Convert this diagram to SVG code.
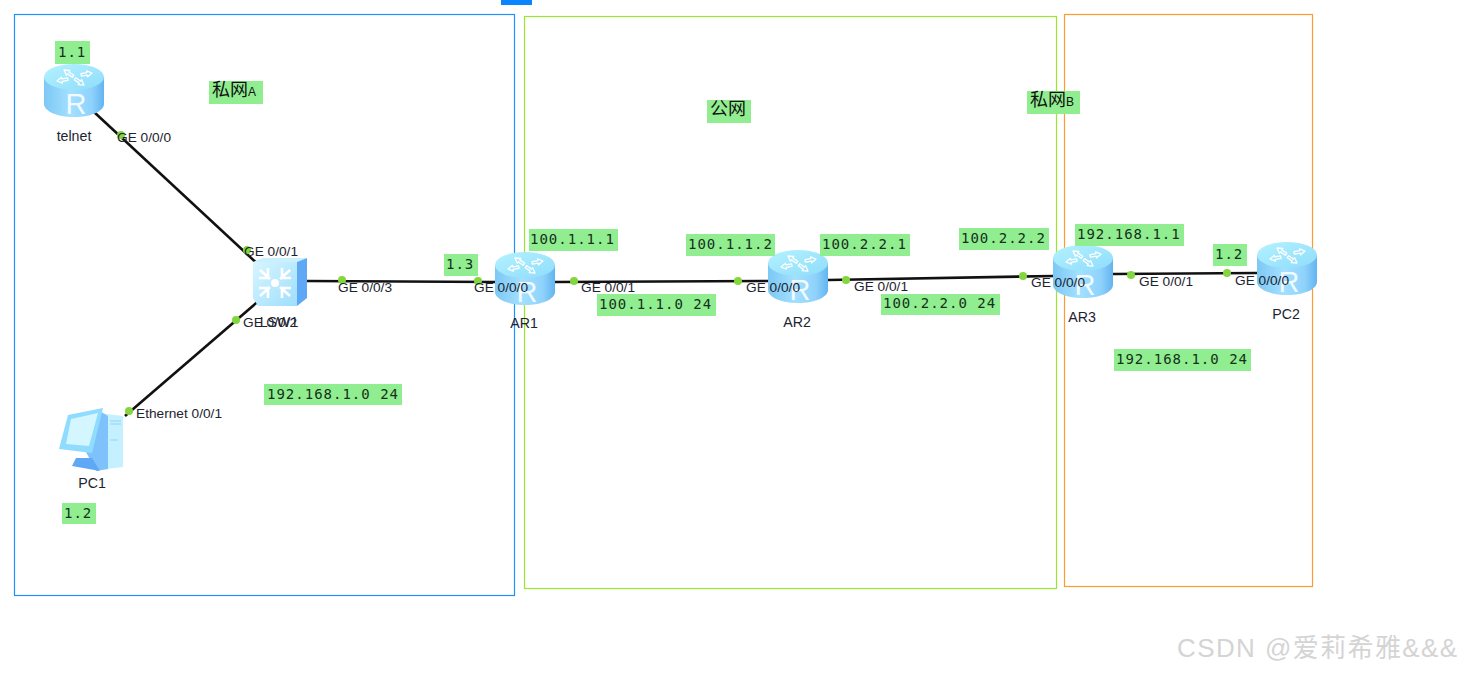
<svg xmlns="http://www.w3.org/2000/svg" xmlns:xlink="http://www.w3.org/1999/xlink" width="1462" height="673" viewBox="0 0 1462 673">
<style>
.lab{font-family:"Liberation Sans",Arial,sans-serif;font-size:14.2px;fill:#1c2430}
.port{font-family:"Liberation Sans",Arial,sans-serif;font-size:13.7px;fill:#1c2430}
.mono{font-family:"DejaVu Sans Mono","Liberation Mono",monospace;font-size:14px;letter-spacing:1px;fill:#15301c}
.cjk{font-family:"Liberation Sans","Noto Sans CJK SC",sans-serif;font-size:18px;fill:#111}
.bg{fill:#90ee90}
.link{stroke:#111;stroke-width:2.6;fill:none}
.dot{fill:#84d63e}
.ico{fill:none;stroke:#fff;stroke-width:1.3;stroke-linejoin:round}
</style>
<defs>
<linearGradient id="cyl" x1="0" x2="1" y1="0" y2="0">
<stop offset="0" stop-color="#7cc8f5"/><stop offset=".45" stop-color="#a4e0ff"/><stop offset=".8" stop-color="#8ed2fb"/><stop offset="1" stop-color="#62b4f0"/>
</linearGradient>
<linearGradient id="top" x1="0" x2="1" y1="0" y2="1">
<stop offset="0" stop-color="#b4f2ff"/><stop offset="1" stop-color="#8edcfb"/>
</linearGradient>
<linearGradient id="sw" x1="0" x2="1" y1="0" y2="1">
<stop offset="0" stop-color="#d8f6ff"/><stop offset="1" stop-color="#9edefc"/>
</linearGradient>
<g id="arrow"><path d="M0 0L5 -3V-1.200H11V1.200H5V3Z"/></g>
<g id="router">
<path d="M0 13V40C0 47 13 53 30 53S60 47 60 40V13Z" fill="url(#cyl)"/>
<ellipse cx="30" cy="13" rx="30" ry="13" fill="url(#top)"/>
<g class="ico">
<use xlink:href="#arrow" href="#arrow" transform="translate(20 6) rotate(35)"/>
<use xlink:href="#arrow" href="#arrow" transform="translate(48 9) rotate(170)"/>
<use xlink:href="#arrow" href="#arrow" transform="translate(13 17) rotate(-10)"/>
<use xlink:href="#arrow" href="#arrow" transform="translate(40 21) rotate(215)"/>
</g>
<text x="32" y="50" text-anchor="middle" font-family="Liberation Sans,sans-serif" font-size="29" fill="#f0fbff">R</text>
</g>
</defs>
<rect width="1462" height="673" fill="#fff"/>
<rect x="501" y="0" width="31" height="5" fill="#0a84ff"/>
<g id="regions" fill="none" stroke-width="1.2">
<rect x="14.500" y="14.500" width="500" height="581" stroke="#1e90ff"/>
<rect x="524.500" y="16.500" width="532" height="572" stroke="#9ae82e"/>
<rect x="1064.500" y="14.500" width="248" height="572" stroke="#ff9a2e"/>
</g>
<g id="connectors">
<path class="link" d="M94 112L262 268"/>
<path class="link" d="M262 298L125 416"/>
<path class="link" d="M306 281L496 282"/>
<path class="link" d="M555 282L769 281"/>
<path class="link" d="M828 280L1054 276"/>
<path class="link" d="M1113 274L1257 273"/>
<circle class="dot" cx="121" cy="135" r="4"/><circle class="dot" cx="247" cy="250" r="4"/>
<circle class="dot" cx="236" cy="320" r="4"/><circle class="dot" cx="129" cy="411" r="4"/>
<circle class="dot" cx="342" cy="280" r="4"/><circle class="dot" cx="478" cy="281" r="4"/>
<circle class="dot" cx="574" cy="281" r="4"/><circle class="dot" cx="738" cy="281" r="4"/>
<circle class="dot" cx="846" cy="280" r="4"/><circle class="dot" cx="1023" cy="276" r="4"/>
<circle class="dot" cx="1131" cy="275" r="4"/><circle class="dot" cx="1227" cy="273" r="4"/>
</g>
<g id="telnet"><use xlink:href="#router" href="#router" x="44" y="64"/><text class="lab" x="74" y="141" text-anchor="middle">telnet</text></g>
<g id="lsw1">
<path d="M253 262L263 258H307L297 262Z" fill="#c8f0ff"/>
<path d="M253 262H297V306H258L253 298Z" fill="url(#sw)"/>
<path d="M297 262L307 258V298L297 306Z" fill="#5fa8f5"/>
<g stroke="#fff" stroke-width="2.6" fill="none">
<path d="M260 270l10 9M268 268v10h-9M290 270l-10 9M282 268v10h9M260 296l10-9M268 298v-10h-9M290 296l-10-9M282 298v-10h9"/>
</g>
<circle cx="275" cy="283" r="4" fill="#fff"/>
<text class="lab" x="279" y="327" text-anchor="middle">LSW1</text>
</g>
<g id="pc1">
<path d="M98 413L123 416V467L98 470Z" fill="#c4f0ff"/>
<path d="M98 410L108 416V469L96 471L86 452Z" fill="#7fc2fb"/>
<path d="M110 421H121M110 424H121M110 440H118" stroke="#8ed4f6" stroke-width="1.200" fill="none"/>
<path d="M68 415L103 408L92 453L59 449Z" fill="#8fdcff"/>
<path d="M71 419L98 413L89 446L66 444Z" fill="#d4f6ff"/>
<path d="M76 458H92L100 471L72 466Z" fill="#5ea8f5"/>
<text class="lab" x="92" y="488" text-anchor="middle">PC1</text>
</g>
<g id="ar1"><use xlink:href="#router" href="#router" x="495" y="252"/><text class="lab" x="524" y="328" text-anchor="middle">AR1</text></g>
<g id="ar2"><use xlink:href="#router" href="#router" x="768" y="250"/><text class="lab" x="797" y="327" text-anchor="middle">AR2</text></g>
<g id="ar3"><use xlink:href="#router" href="#router" x="1053" y="245"/><text class="lab" x="1082" y="322" text-anchor="middle">AR3</text></g>
<g id="pc2"><use xlink:href="#router" href="#router" x="1257" y="242"/><text class="lab" x="1286" y="319" text-anchor="middle">PC2</text></g>
<g id="port-labels">
<text class="port" x="117" y="142">GE 0/0/0</text>
<text class="port" x="244" y="256">GE 0/0/1</text>
<text class="port" x="243" y="327">GE 0/0/2</text>
<text class="port" x="338" y="292">GE 0/0/3</text>
<text class="port" x="136" y="418">Ethernet 0/0/1</text>
<text class="port" x="474" y="292">GE 0/0/0</text>
<text class="port" x="581" y="292">GE 0/0/1</text>
<text class="port" x="746" y="292">GE 0/0/0</text>
<text class="port" x="854" y="291">GE 0/0/1</text>
<text class="port" x="1031" y="287">GE 0/0/0</text>
<text class="port" x="1139" y="286">GE 0/0/1</text>
<text class="port" x="1235" y="285">GE 0/0/0</text>
</g>
<g id="notes">
<rect class="bg" x="55" y="41" width="35" height="23"/><text class="mono" x="58" y="57">1.1</text>
<rect class="bg" x="209" y="81" width="54" height="23"/><text class="cjk" x="212" y="96">私网<tspan font-size="12">A</tspan></text>
<rect class="bg" x="707" y="100" width="44" height="23"/><text class="cjk" x="710" y="115">公网</text>
<rect class="bg" x="1027" y="91" width="53" height="23"/><text class="cjk" x="1030" y="106">私网<tspan font-size="12">B</tspan></text>
<rect class="bg" x="444" y="254" width="34" height="22"/><text class="mono" x="446" y="269">1.3</text>
<rect class="bg" x="529" y="229" width="89" height="22"/><text class="mono" x="530" y="244">100.1.1.1</text>
<rect class="bg" x="686" y="234" width="89" height="22"/><text class="mono" x="688" y="249">100.1.1.2</text>
<rect class="bg" x="820" y="234" width="90" height="22"/><text class="mono" x="822" y="249">100.2.2.1</text>
<rect class="bg" x="959" y="228" width="90" height="22"/><text class="mono" x="961" y="243">100.2.2.2</text>
<rect class="bg" x="1075" y="224" width="109" height="22"/><text class="mono" x="1077" y="239">192.168.1.1</text>
<rect class="bg" x="1213" y="244" width="34" height="22"/><text class="mono" x="1215" y="259">1.2</text>
<rect class="bg" x="597" y="294" width="119" height="22"/><text class="mono" x="599" y="309">100.1.1.0 24</text>
<rect class="bg" x="881" y="294" width="119" height="21"/><text class="mono" x="883" y="308">100.2.2.0 24</text>
<rect class="bg" x="1114" y="349" width="137" height="22"/><text class="mono" x="1116" y="364">192.168.1.0 24</text>
<rect class="bg" x="264" y="384" width="138" height="21"/><text class="mono" x="267" y="399">192.168.1.0 24</text>
<rect class="bg" x="62" y="503" width="34" height="21"/><text class="mono" x="64" y="518">1.2</text>
</g>
<text x="1177" y="657" font-family="Liberation Sans,'Noto Sans CJK SC',sans-serif" font-size="26" letter-spacing="1.4" fill="#d4d4d4">CSDN @爱莉希雅&amp;&amp;&amp;</text>
</svg>
